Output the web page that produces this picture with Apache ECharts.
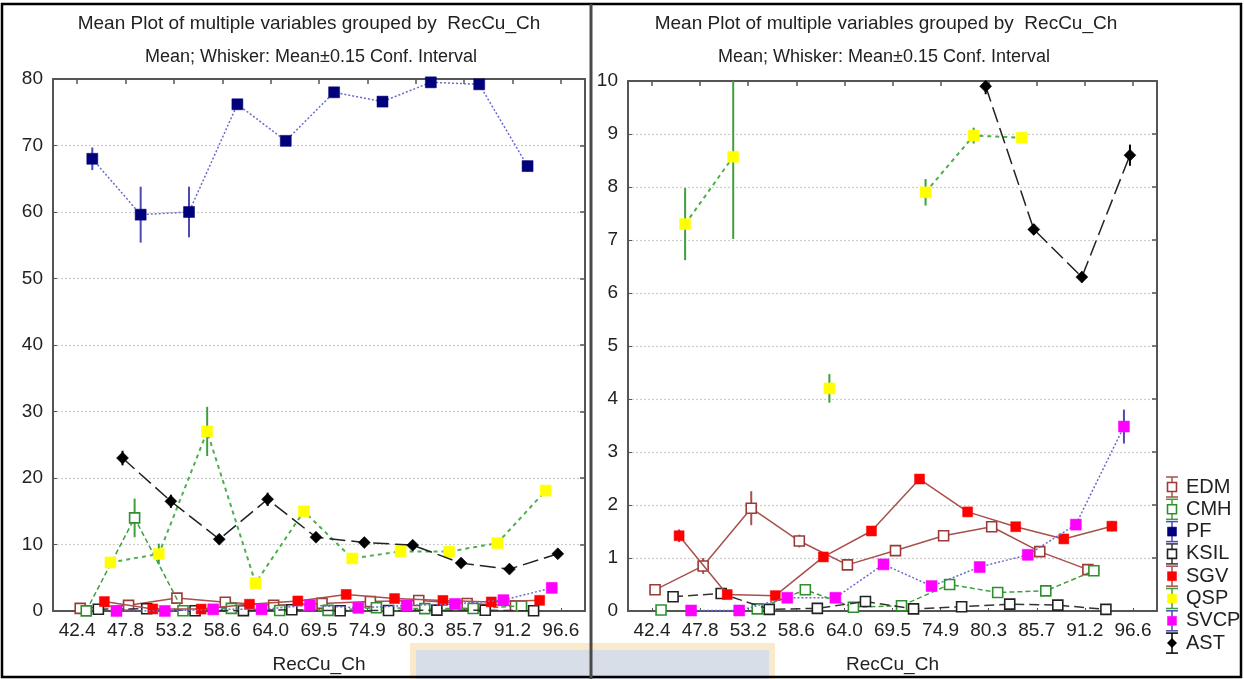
<!DOCTYPE html>
<html>
<head>
<meta charset="utf-8">
<script src="https://cdn.jsdelivr.net/npm/echarts@6/dist/echarts.min.js"></script>
<style>
html,body{margin:0;padding:0;background:#fff;}
#chart{width:1244px;height:679px;}
</style>
</head>
<body>
<div id="chart"></div>
<script>
// ---------- data ----------
const groupLabels = ['42.4','47.8','53.2','58.6','64.0','69.5','74.9','80.3','85.7','91.2','96.6'];
const varNames = ['EDM','CMH','PF','KSIL','SGV','QSP','SVCP','AST'];
const EDM  = [0.40, 0.85, 1.94, 1.32, 0.87, 1.14, 1.42, 1.59, 1.12, 0.78];
const CMH  = [0.02, 14.0, 0.04, 0.40, 0.07, 0.10, 0.50, 0.35, 0.38, 0.76];
const PF   = [68.0, 59.6, 60.0, 76.2, 70.7, 78.0, 76.6, 79.5, 79.2, 66.9];
const KSIL = [0.27, 0.33, 0.03, 0.05, 0.18, 0.04, 0.08, 0.13, 0.11, 0.03];
const SGV  = [1.42, 0.31, 0.29, 1.02, 1.51, 2.49, 1.87, 1.59, 1.36, 1.60];
const QSP  = [7.30, 8.57, 27.0, 4.20, 15.0, 7.90, 8.97, 8.93, 10.2, 18.1];
const SVCP = [0.01, 0.01, 0.25, 0.25, 0.88, 0.47, 0.83, 1.06, 1.63, 3.48];
const AST  = [23.0, 16.5, 10.8, 16.8, 11.1, 10.3, 9.90, 7.20, 6.30, 8.60];
// whisker half-widths (Mean ± 0.15 conf. interval)
const EDM_CI  = [0.03, 0.15, 0.32, 0.12, 0.05, 0.05, 0.04, 0.05, 0.05, 0.05];
const CMH_CI  = [0.02, 2.90, 0.03, 0.04, 0.03, 0.03, 0.05, 0.04, 0.04, 0.06];
const PF_CI   = [1.70, 4.20, 3.80, 0.80, 0.60, 0.50, 0.60, 0.50, 0.50, 0.80];
const KSIL_CI = [0.02, 0.03, 0.02, 0.02, 0.03, 0.02, 0.02, 0.03, 0.02, 0.02];
const SGV_CI  = [0.12, 0.04, 0.04, 0.05, 0.06, 0.06, 0.05, 0.05, 0.06, 0.10];
const QSP_CI  = [0.68, 1.55, 3.70, 0.27, 0.50, 0.25, 0.15, 0.10, 0.40, 0.40];
const SVCP_CI = [0.01, 0.01, 0.03, 0.03, 0.05, 0.05, 0.05, 0.05, 0.06, 0.32];
const AST_CI  = [1.10, 1.00, 0.50, 1.00, 0.40, 0.30, 0.15, 0.10, 0.10, 0.20];
const leftTicks = [0,10,20,30,40,50,60,70,80];
const rightTicks = [0,1,2,3,4,5,6,7,8,9,10];

const means = [EDM, CMH, PF, KSIL, SGV, QSP, SVCP, AST];
const cis = [EDM_CI, CMH_CI, PF_CI, KSIL_CI, SGV_CI, QSP_CI, SVCP_CI, AST_CI];

// ---------- styles ----------
const styles = [
  {line:'#a8504c', type:'solid',  lw:1.5, sym:'rect',    size:10, fill:'#ffffff', border:'#9a3b38', whisk:'#a8504c'},
  {line:'#3f9f3f', type:[5,3],    lw:1.5, sym:'rect',    size:10, fill:'#ffffff', border:'#2f8f2f', whisk:'#3f9f3f'},
  {line:'#6a6acc', type:[2,2],    lw:1.5, sym:'rect',    size:11, fill:'#00007a', border:'#00007a', whisk:'#4a4ab8'},
  {line:'#333333', type:[10,5],   lw:1.5, sym:'rect',    size:10, fill:'#ffffff', border:'#222222', whisk:'#333333'},
  {line:'#a8504c', type:'solid',  lw:1.5, sym:'rect',    size:10, fill:'#ff0000', border:'#ff0000', whisk:'#a8504c'},
  {line:'#4caf50', type:[4,4],    lw:2,   sym:'rect',    size:11, fill:'#ffff00', border:'#ffff00', whisk:'#3f9f3f'},
  {line:'#6a6acc', type:[2,2],    lw:1.5, sym:'rect',    size:11, fill:'#ff00ff', border:'#ff00ff', whisk:'#4a4ab8'},
  {line:'#222222', type:[16,6],   lw:1.5, sym:'diamond', size:12, fill:'#000000', border:'#000000', whisk:'#000000'}
];

const font = 'Liberation Sans, Arial, sans-serif';
const textColor = '#222222';
const axisColor = '#555555';
const nVar = varNames.length;
const xOf = (g, i) => g + (i + 0.5) / nVar;

const panels = [
  {grid:{left:53, top:79, width:532, height:535}, ymax:80, yint:10, ticks:leftTicks},
  {grid:{left:628, top:81, width:529, height:533}, ymax:10, yint:1, ticks:rightTicks}
];

const xAxes = [], yAxes = [], series = [];
panels.forEach((p, pi) => {
  const tickVals = groupLabels.map((_, k) => k);
  xAxes.push({
    gridIndex: pi, type:'value', min:-0.5, max:10.5, position:'bottom',
    name:'RecCu_Ch', nameLocation:'middle', nameGap:44,
    nameTextStyle:{fontFamily:font, fontSize:19, color:textColor},
    axisLine:{show:true, onZero:false, lineStyle:{color:axisColor, width:2}},
    axisTick:{show:true, inside:true, length:3, customValues:tickVals, lineStyle:{color:axisColor}},
    axisLabel:{customValues:tickVals, formatter:(v)=>groupLabels[Math.round(v)], fontFamily:font, fontSize:19, color:textColor, margin:10},
    splitLine:{show:false}
  });
  xAxes.push({
    gridIndex: pi, type:'value', min:-0.5, max:10.5, position:'top',
    axisLine:{show:true, onZero:false, lineStyle:{color:axisColor, width:2}},
    axisTick:{show:true, inside:true, length:5, customValues:tickVals, lineStyle:{color:axisColor, width:1.5}},
    axisLabel:{show:false}, splitLine:{show:false}
  });
  yAxes.push({
    gridIndex: pi, type:'value', min:0, max:p.ymax, interval:p.yint, position:'left',
    axisLine:{show:true, onZero:false, lineStyle:{color:axisColor, width:2}},
    axisTick:{show:true, inside:true, length:4, lineStyle:{color:axisColor}},
    axisLabel:{fontFamily:font, fontSize:19, color:textColor, margin:10},
    splitLine:{show:true, lineStyle:{color:'#cccccc', type:[2,2], width:1.2}}
  });
  yAxes.push({
    gridIndex: pi, type:'value', min:0, max:p.ymax, interval:p.yint, position:'right',
    axisLine:{show:true, onZero:false, lineStyle:{color:axisColor, width:2}},
    axisTick:{show:true, inside:true, length:5, lineStyle:{color:axisColor, width:1.5}},
    axisLabel:{show:false}, splitLine:{show:false}
  });

  const xi = pi * 2, yi = pi * 2;
  varNames.forEach((name, i) => {
    const st = styles[i];
    const vals = means[i];
    const lineData = vals.map((v, g) => [xOf(g, i), v <= p.ymax ? v : '-']);
    const wData = [];
    vals.forEach((v, g) => {
      if (v <= p.ymax) wData.push([xOf(g, i), v - cis[i][g], v + cis[i][g]]);
    });
    series.push({
      type:'custom', name: name + ' whisker', xAxisIndex:xi, yAxisIndex:yi,
      data: wData, z: 2, silent:true,
      encode:{x:0, y:[1,2]},
      renderItem: (params, api) => {
        const x = api.value(0);
        const a = api.coord([x, api.value(1)]);
        const b = api.coord([x, api.value(2)]);
        const cs = params.coordSys;
        const top = cs.y, bot = cs.y + cs.height;
        let y1 = Math.min(Math.max(a[1], top), bot);
        let y2 = Math.min(Math.max(b[1], top), bot);
        if (Math.abs(y1 - y2) < 0.5) return null;
        return {type:'line', shape:{x1:a[0], y1:y1, x2:a[0], y2:y2},
                style:{stroke:st.whisk, lineWidth:2}};
      }
    });
    series.push({
      type:'line', name:name, xAxisIndex:xi, yAxisIndex:yi,
      data: lineData, connectNulls:false, z: 3 + i * 0.01,
      symbol: st.sym, symbolSize: st.size, showSymbol:true,
      lineStyle:{color:st.line, type:st.type, width:st.lw},
      itemStyle:{color:st.fill, borderColor:st.border, borderWidth: st.fill === '#ffffff' ? 1.6 : 0.5},
      emphasis:{disabled:true}, animation:false, clip:true
    });
  });
});

// ---------- legend (drawn) ----------
const legendItems = [];
varNames.forEach((name, i) => {
  const st = styles[i];
  const cy = 487 + i * 22.3, cx = 1172;
  legendItems.push({type:'line', shape:{x1:cx, y1:cy-10, x2:cx, y2:cy+10}, style:{stroke:st.whisk, lineWidth:1.5}});
  legendItems.push({type:'line', shape:{x1:cx-6, y1:cy-10, x2:cx+6, y2:cy-10}, style:{stroke:st.whisk, lineWidth:1.5}});
  legendItems.push({type:'line', shape:{x1:cx-6, y1:cy+10, x2:cx+6, y2:cy+10}, style:{stroke:st.whisk, lineWidth:1.5}});
  if (st.sym === 'diamond') {
    legendItems.push({type:'polygon', shape:{points:[[cx,cy-5],[cx+5,cy],[cx,cy+5],[cx-5,cy]]}, style:{fill:st.fill}});
  } else {
    legendItems.push({type:'rect', shape:{x:cx-4.5, y:cy-4.5, width:9, height:9},
      style:{fill:st.fill, stroke:st.border, lineWidth: st.fill === '#ffffff' ? 1.6 : 0.5}});
  }
  legendItems.push({type:'text', x:1186, y:cy, style:{text:name, font:'20px ' + font, fill:textColor, textVerticalAlign:'middle'}});
});

const option = {
  backgroundColor:'#ffffff',
  animation:false,
  title:[
    {text:'Mean Plot of multiple variables grouped by  RecCu_Ch', left:304, top:9, textAlign:'center',
     textStyle:{fontFamily:font, fontSize:19, fontWeight:'normal', color:textColor}},
    {text:'Mean; Whisker: Mean±0.15 Conf. Interval', left:306, top:43, textAlign:'center',
     textStyle:{fontFamily:font, fontSize:18, fontWeight:'normal', color:textColor}},
    {text:'Mean Plot of multiple variables grouped by  RecCu_Ch', left:881, top:9, textAlign:'center',
     textStyle:{fontFamily:font, fontSize:19, fontWeight:'normal', color:textColor}},
    {text:'Mean; Whisker: Mean±0.15 Conf. Interval', left:879, top:43, textAlign:'center',
     textStyle:{fontFamily:font, fontSize:18, fontWeight:'normal', color:textColor}}
  ],
  grid: panels.map(p => p.grid),
  xAxis: xAxes,
  yAxis: yAxes,
  series: series,
  graphic: [
    {type:'rect', z:-10, shape:{x:410, y:643, width:365, height:40}, style:{fill:'#fbe9cc'}},
    {type:'rect', z:-9, shape:{x:416, y:650, width:353, height:35}, style:{fill:'#d7dee8'}},
    {type:'rect', z:100, shape:{x:2, y:4, width:1239, height:673}, style:{fill:'none', stroke:'#000', lineWidth:2.5}},
    {type:'line', z:100, shape:{x1:591, y1:4, x2:591, y2:679}, style:{stroke:'#4a4a4a', lineWidth:3}},
    {type:'group', z:100, children: legendItems}
  ]
};

const chart = echarts.init(document.getElementById('chart'), null, {renderer:'canvas'});
chart.setOption(option);
</script>
</body>
</html>
